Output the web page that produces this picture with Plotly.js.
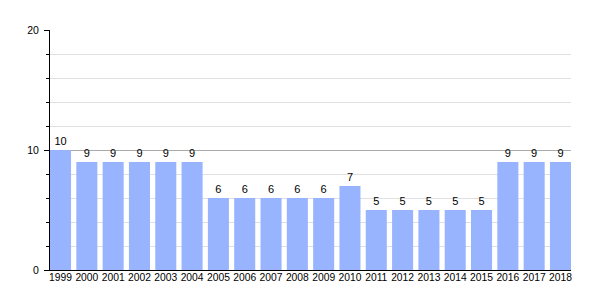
<!DOCTYPE html>
<html>
<head>
<meta charset="utf-8">
<script src="https://cdn.plot.ly/plotly-3.0.1.min.js"></script>
<style>html,body{margin:0;padding:0;background:#fff;}#chart{width:600px;height:300px;}</style>
</head>
<body>
<div id="chart"></div>
<script>
var years = ["1999","2000","2001","2002","2003","2004","2005","2006","2007","2008","2009","2010","2011","2012","2013","2014","2015","2016","2017","2018"];
var values = [10,9,9,9,9,9,6,6,6,6,6,7,5,5,5,5,5,9,9,9];
var yTicks = [0,10,20];

var fontFam = "Liberation Sans, Arial, sans-serif";

Plotly.newPlot("chart", [{
  type: "bar",
  x: years,
  y: values,
  text: values.map(String),
  textposition: "outside",
  cliponaxis: false,
  textfont: {family: fontFam, size: 11, color: "#000"},
  marker: {color: "#99B4FF", line: {width: 0}},
  width: 0.8,
  hoverinfo: "none"
}], {
  width: 600, height: 300,
  margin: {l: 50, r: 29, t: 30, b: 30, pad: 0},
  paper_bgcolor: "#fff",
  plot_bgcolor: "#fff",
  showlegend: false,
  font: {family: fontFam, size: 10, color: "#000"},
  xaxis: {
    type: "category",
    range: [-0.4, 19.4],
    showline: true, linecolor: "#000", linewidth: 1,
    ticks: "", showgrid: false, zeroline: false,
    tickfont: {family: fontFam, size: 10.3, color: "#000"},
    tickangle: 0,
    ticklabelstandoff: -2
  },
  yaxis: {
    range: [0, 20],
    tickmode: "array", tickvals: yTicks, ticktext: yTicks.map(String),
    showline: true, linecolor: "#000", linewidth: 1,
    ticks: "outside", ticklen: 5, tickcolor: "#000", tickwidth: 1,
    showgrid: true, gridcolor: "#aaaaaa", gridwidth: 1,
    zeroline: false,
    ticklabelstandoff: 3,
    tickfont: {family: fontFam, size: 10.5, color: "#000"},
    minor: {dtick: 2, tick0: 0, ticks: "outside", ticklen: 3, tickcolor: "#000", tickwidth: 1, showgrid: true, gridcolor: "#e0e0e0", gridwidth: 1}
  }
}, {displayModeBar: false, staticPlot: true});
</script>
</body>
</html>
